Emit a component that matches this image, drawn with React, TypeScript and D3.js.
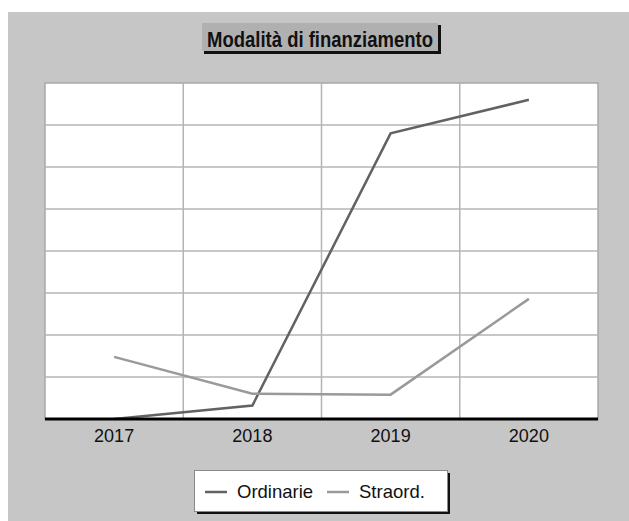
import React from "react";
import * as d3 from "d3";

// Funding amounts per year (thousands)
const years = ["2017", "2018", "2019", "2020"];
const ordinarie = [0, 16, 340, 380];
const straordinarie = [74, 30, 29, 143];
const yTicks = [0, 50, 100, 150, 200, 250, 300, 350, 400];
const seriesNames = ["Ordinarie", "Straord."];
const seriesColors = ["#626262", "#9a9a9a"];

const W = 629;
const H = 521;
const plot = { left: 45, right: 598, top: 83, bottom: 419 };
const FONT = "'Liberation Sans', Arial, sans-serif";

export default function App() {
  const x = d3
    .scaleBand<string>()
    .domain(years)
    .range([plot.left, plot.right])
    .padding(0);
  const y = d3.scaleLinear().domain([0, 400]).range([plot.bottom, plot.top]);
  const cx = (yr: string) => (x(yr) as number) + x.bandwidth() / 2;

  const line = d3
    .line<number>()
    .x((_, i) => cx(years[i]))
    .y((v) => y(v));

  const series = [ordinarie, straordinarie];

  return (
    <svg
      width={W}
      height={H}
      style={{ position: "absolute", left: 0, top: 0, display: "block" }}
      fontFamily={FONT}
    >
      <rect x={0} y={0} width={W} height={H} fill="#ffffff" />
      <rect x={8} y={12} width={W - 8} height={H - 12} fill="#c6c6c6" />

      {/* title box */}
      <rect x={204} y={25} width={237} height={29} fill="#111" />
      <rect x={202} y={23} width={236} height={28} fill="#b0b0b0" />
      <text
        x={320}
        y={46.5}
        textAnchor="middle"
        fontSize={22.5}
        fontWeight="bold"
        fill="#111"
        textLength={226}
        lengthAdjust="spacingAndGlyphs"
      >
        Modalità di finanziamento
      </text>

      {/* plot area */}
      <rect
        x={plot.left}
        y={plot.top}
        width={plot.right - plot.left}
        height={plot.bottom - plot.top}
        fill="#ffffff"
        stroke="#a8a8a8"
        strokeWidth={1.5}
      />
      {yTicks.slice(1, -1).map((t) => (
        <line
          key={"h" + t}
          x1={plot.left}
          x2={plot.right}
          y1={y(t)}
          y2={y(t)}
          stroke="#b4b4b4"
          strokeWidth={1.5}
        />
      ))}
      {years.slice(1).map((yr) => (
        <line
          key={"v" + yr}
          x1={x(yr) as number}
          x2={x(yr) as number}
          y1={plot.top}
          y2={plot.bottom}
          stroke="#b4b4b4"
          strokeWidth={1.5}
        />
      ))}

      {series.map((s, i) => (
        <path
          key={seriesNames[i]}
          d={line(s) as string}
          fill="none"
          stroke={seriesColors[i]}
          strokeWidth={2.5}
        />
      ))}

      <line
        x1={plot.left}
        x2={plot.right}
        y1={plot.bottom}
        y2={plot.bottom}
        stroke="#000"
        strokeWidth={3}
      />

      {years.map((yr) => (
        <text
          key={"t" + yr}
          x={cx(yr)}
          y={442}
          textAnchor="middle"
          fontSize={18}
          fill="#111"
        >
          {yr}
        </text>
      ))}

      {/* legend */}
      <rect x={197} y={473} width={253} height={41} fill="#111" />
      <rect
        x={194.5}
        y={470.5}
        width={253}
        height={41}
        fill="#ffffff"
        stroke="#8a8a8a"
        strokeWidth={1}
      />
      {seriesNames.map((name, i) => {
        const lx = [205, 327][i];
        return (
          <g key={"lg" + name}>
            <line
              x1={lx}
              x2={lx + 22}
              y1={492}
              y2={492}
              stroke={seriesColors[i]}
              strokeWidth={2.5}
            />
            <text x={lx + 32} y={498} fontSize={18.5} fill="#111">
              {name}
            </text>
          </g>
        );
      })}
    </svg>
  );
}
